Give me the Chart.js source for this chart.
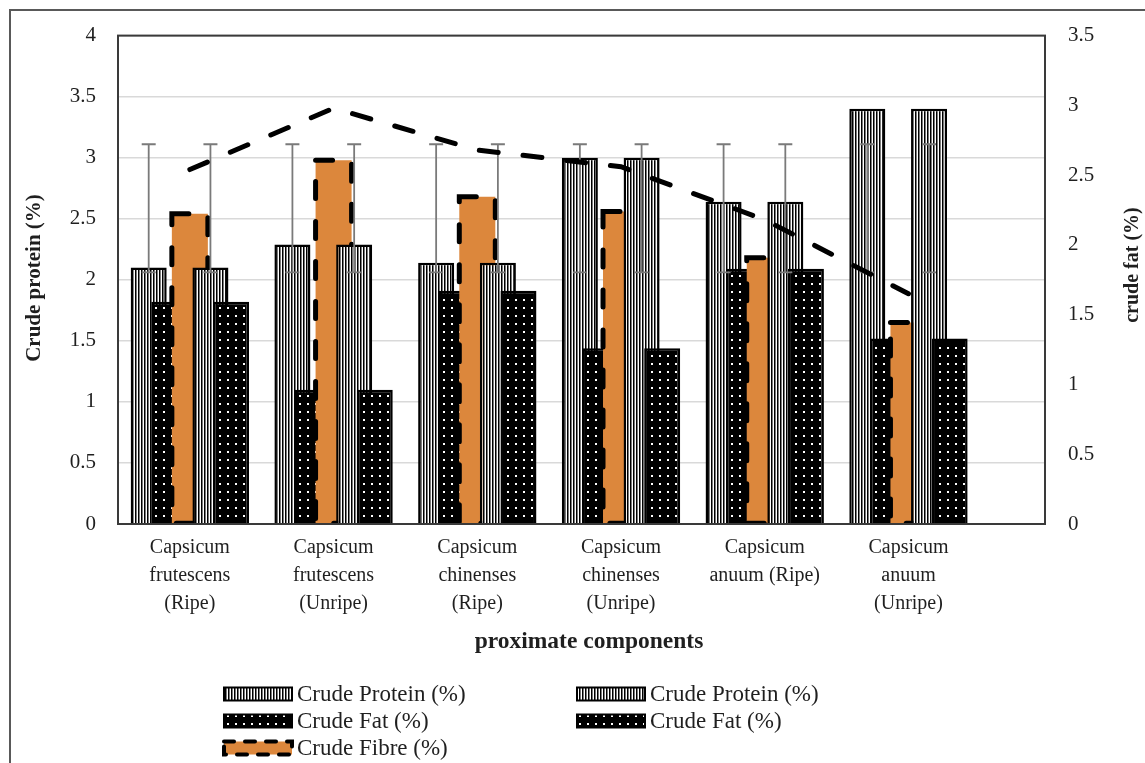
<!DOCTYPE html>
<html>
<head>
<meta charset="utf-8">
<script src="https://cdn.jsdelivr.net/npm/chart.js@4.4.1/dist/chart.umd.min.js"></script>
<style>
  html, body { margin: 0; padding: 0; background: #fff; overflow: hidden; }
  #wrap { position: relative; width: 1145px; height: 763px; }
</style>
</head>
<body>
<div id="wrap"><canvas id="chart" width="1145" height="763"></canvas></div>
<script>
// categories (x positions are just the index of each one)
const categories = [
    ["Capsicum", "frutescens", "(Ripe)"],
    ["Capsicum", "frutescens", "(Unripe)"],
    ["Capsicum", "chinenses", "(Ripe)"],
    ["Capsicum", "chinenses", "(Unripe)"],
    ["Capsicum", "anuum (Ripe)"],
    ["Capsicum", "anuum", "(Unripe)"]
];
const categoryIndex = [0, 1, 2, 3, 4, 5];

const crudeProtein = [2.1, 2.29, 2.14, 3.0, 2.64, 3.4];
const crudeFat = [1.82, 1.1, 1.91, 1.44, 2.09, 1.52];
const crudeFibre = [2.54, 2.98, 2.68, 2.56, 2.18, 1.65];

// error bars on the protein bars (same for every group in the picture)
const proteinErrLow = [2.06, 2.06, 2.06, 2.06, 2.06, 2.06];
const proteinErrHigh = [3.11, 3.11, 3.11, 3.11, 3.11, 3.11];

const serif = "'Liberation Serif', 'Times New Roman', serif";
const textColor = "#1f1f1f";
const orange = "#dc873c";

const canvas = document.getElementById("chart");
const ctx = canvas.getContext("2d");

function makeStripes() {
    const c = document.createElement("canvas");
    c.width = 3; c.height = 3;
    const g = c.getContext("2d");
    g.fillStyle = "#ffffff"; g.fillRect(0, 0, 3, 3);
    g.fillStyle = "#000000"; g.fillRect(0, 0, 1, 3);
    g.fillStyle = "#7a7a7a"; g.fillRect(1, 0, 1, 3);
    return ctx.createPattern(c, "repeat");
}

function makeDots() {
    const c = document.createElement("canvas");
    c.width = 8; c.height = 8;
    const g = c.getContext("2d");
    g.fillStyle = "#000000"; g.fillRect(0, 0, 8, 8);
    g.fillStyle = "#ffffff"; g.fillRect(3, 3, 2, 2);
    return ctx.createPattern(c, "repeat");
}

const stripes = makeStripes();
const dots = makeDots();

function dashedBox(c, x, y, w, h, lw, dash) {
    c.save();
    c.strokeStyle = "#000";
    c.lineWidth = lw;
    c.lineCap = "round";
    c.setLineDash(dash);
    c.strokeRect(x, y, w, h);
    c.restore();
}

// Excel draws the later series on top, chart.js the other way round
const excelLook = {
    id: "excelLook",
    beforeDraw(chart) {
        const c = chart.ctx;
        c.save();
        c.strokeStyle = "#595959";
        c.lineWidth = 2;
        c.strokeRect(10, 10, 1400, 1000);
        c.restore();
    },
    beforeDatasetsDraw(chart) {
        const c = chart.ctx;
        const a = chart.chartArea;
        const metas = chart.getSortedVisibleDatasetMetas().slice().sort((m1, m2) => m1.index - m2.index);

        c.save();
        c.beginPath();
        c.rect(a.left, a.top, a.right - a.left, a.bottom - a.top);
        c.clip();

        metas.filter(m => m.type === "bar").forEach(m => {
            m.controller.draw();
            const ds = chart.data.datasets[m.index];
            if (ds.dashedOutline) {
                m.data.forEach(el => {
                    const p = el.getProps(["x", "y", "base", "width"], true);
                    dashedBox(c, p.x - p.width / 2, p.y, p.width, p.base - p.y, 5, [17, 23]);
                });
            }
        });

        // error bars
        metas.forEach(m => {
            const ds = chart.data.datasets[m.index];
            if (!ds.errLow) return;
            const yScale = chart.scales[m.yAxisID];
            m.data.forEach((el, i) => {
                const x = el.x;
                const yHi = yScale.getPixelForValue(ds.errHigh[i]);
                const yLo = yScale.getPixelForValue(ds.errLow[i]);
                c.save();
                c.strokeStyle = "#7a7a7a";
                c.lineWidth = 1.8;
                c.beginPath();
                c.moveTo(x, yHi); c.lineTo(x, yLo);
                c.moveTo(x - 7, yHi); c.lineTo(x + 7, yHi);
                c.moveTo(x - 7, yLo); c.lineTo(x + 7, yLo);
                c.stroke();
                c.restore();
            });
        });

        metas.filter(m => m.type === "line").forEach(m => m.controller.draw());
        c.restore();
        return false;
    },
    afterDraw(chart) {
        const c = chart.ctx;
        const a = chart.chartArea;

        // plot frame
        c.save();
        c.strokeStyle = "#3a3a3a";
        c.lineWidth = 2;
        c.strokeRect(a.left, a.top, a.right - a.left, a.bottom - a.top);
        c.restore();

        c.save();
        c.fillStyle = textColor;
        c.textAlign = "center";
        c.textBaseline = "middle";
        c.font = "bold 21px " + serif;

        c.save();
        c.translate(35, 278);
        c.rotate(-Math.PI / 2);
        c.fillText("Crude protein (%)", 0, 0);
        c.restore();

        c.font = "bold 20px " + serif;
        c.save();
        c.translate(1133, 265);
        c.rotate(-Math.PI / 2);
        c.fillText("crude fat (%)", 0, 0);
        c.restore();

        c.font = "bold 23.5px " + serif;
        c.fillText("proximate components", 589, 642);
        c.restore();

        // legend, filled column by column like Excel does
        const items = chart.data.datasets.filter(d => d.inLegend !== false);
        const colX = [224, 577];
        const rowY = [694, 721, 748];
        c.save();
        c.font = "23px " + serif;
        c.textBaseline = "middle";
        c.textAlign = "left";
        items.forEach((ds, k) => {
            const x = colX[Math.floor(k / 3)];
            const y = rowY[k % 3];
            const w = 68, h = 13;
            if (ds.dashedOutline) {
                c.fillStyle = ds.backgroundColor;
                c.fillRect(x, y - h / 2, w, h);
                dashedBox(c, x, y - h / 2, w, h, 4, [10, 11]);
            } else {
                c.fillStyle = ds.backgroundColor;
                c.fillRect(x, y - h / 2, w, h);
                c.strokeStyle = "#000";
                c.lineWidth = 2;
                c.strokeRect(x, y - h / 2, w, h);
            }
            c.fillStyle = textColor;
            c.fillText(ds.label, x + w + 5, y + 1);
        });
        c.restore();
    }
};

const tickText = (v) => String(+v.toFixed(1));

new Chart(ctx, {
    type: "bar",
    data: {
        labels: categoryIndex,
        datasets: [
            {
                label: "Crude Protein (%)",
                data: crudeProtein,
                backgroundColor: stripes,
                borderColor: "#000",
                borderWidth: 2.5,
                yAxisID: "y",
                errLow: proteinErrLow,
                errHigh: proteinErrHigh
            },
            {
                label: "Crude Fat (%)",
                data: crudeFat,
                backgroundColor: dots,
                borderColor: "#000",
                borderWidth: 2.5,
                yAxisID: "y"
            },
            {
                label: "Crude Fibre (%)",
                data: crudeFibre,
                backgroundColor: orange,
                borderWidth: 0,
                yAxisID: "y",
                dashedOutline: true
            },
            {
                label: "Crude Protein (%)",
                data: crudeProtein,
                backgroundColor: stripes,
                borderColor: "#000",
                borderWidth: 2.5,
                yAxisID: "y",
                errLow: proteinErrLow,
                errHigh: proteinErrHigh
            },
            {
                label: "Crude Fat (%)",
                data: crudeFat,
                backgroundColor: dots,
                borderColor: "#000",
                borderWidth: 2.5,
                yAxisID: "y"
            },
            {
                type: "line",
                label: "Crude Fibre (%)",
                data: crudeFibre,
                yAxisID: "y2",
                borderColor: "#000",
                borderWidth: 5,
                borderDash: [19, 25],
                borderCapStyle: "round",
                pointRadius: 0,
                tension: 0,
                fill: false,
                inLegend: false
            }
        ]
    },
    options: {
        responsive: false,
        animation: false,
        devicePixelRatio: 1,
        layout: { padding: { top: 31, left: 0, right: 0, bottom: 0 } },
        datasets: {
            bar: { categoryPercentage: 0.716, barPercentage: 1.75 }
        },
        plugins: {
            legend: { display: false },
            tooltip: { enabled: false }
        },
        scales: {
            x: {
                type: "linear",
                min: -0.5,
                max: 5.95,
                offset: false,
                grid: { display: false, drawTicks: false, offset: false },
                border: { display: false },
                ticks: {
                    stepSize: 1,
                    includeBounds: false,
                    autoSkip: false,
                    maxRotation: 0,
                    padding: 10,
                    color: textColor,
                    font: { family: serif, size: 20, lineHeight: 1.4 },
                    callback: (v) => categories[v]
                },
                afterFit: (s) => { s.height = 239; }
            },
            y: {
                position: "left",
                min: 0,
                max: 4,
                grid: { color: "#d9d9d9", lineWidth: 1.5, drawTicks: false },
                border: { display: false },
                ticks: {
                    stepSize: 0.5,
                    padding: 22,
                    color: textColor,
                    font: { family: serif, size: 21 },
                    callback: tickText
                },
                afterFit: (s) => { s.width = 118; }
            },
            y2: {
                position: "right",
                min: 0,
                max: 3.5,
                grid: { display: false, drawTicks: false },
                border: { display: false },
                ticks: {
                    stepSize: 0.5,
                    padding: 23,
                    color: textColor,
                    font: { family: serif, size: 21 },
                    callback: tickText
                },
                afterFit: (s) => { s.width = 100; }
            }
        }
    },
    plugins: [excelLook]
});
</script>
</body>
</html>
